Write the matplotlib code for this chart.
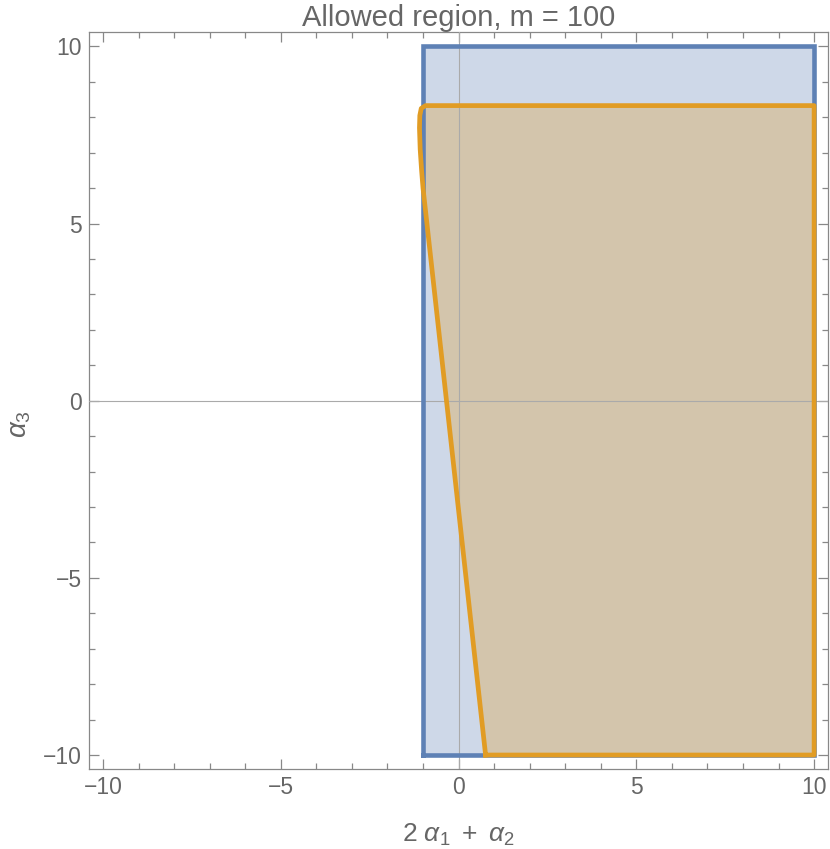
import matplotlib.pyplot as plt
from matplotlib.ticker import MultipleLocator

plt.rcParams['font.family'] = ['Liberation Sans', 'DejaVu Sans']
plt.rcParams['mathtext.fontset'] = 'custom'
plt.rcParams['mathtext.rm'] = 'Liberation Sans'
plt.rcParams['mathtext.it'] = 'Liberation Sans:italic'

# blue region: 2a1 + a2 >= -1 inside the plot box
blue_x = [-1.0, 10.0, 10.0, -1.0, -1.0]
blue_y = [-10.0, -10.0, 10.0, 10.0, -10.0]

# orange region, m = 100
orange_x = [0.76, 10.0, 10.0, -0.93, -1.05, -1.09, -1.10, -1.08, -1.04, -1.0, 0.76]
orange_y = [-10.0, -10.0, 8.33, 8.33, 8.25, 8.05, 7.7, 7.1, 6.5, 6.0, -10.0]

blue = '#5E81B5'
orange = '#E19C24'
grey = '#666666'

fig = plt.figure(figsize=(8.3, 8.49), dpi=100)
ax = fig.add_axes([0.107, 0.094, 0.891, 0.868])

ax.fill(blue_x, blue_y, color=blue, alpha=0.3, lw=0)
ax.fill(orange_x, orange_y, color=orange, alpha=0.3, lw=0)

# axes through the origin
ax.axhline(0, color='#aaaaaa', lw=0.8, zorder=3)
ax.axvline(0, color='#aaaaaa', lw=0.8, zorder=3)

ax.plot(blue_x, blue_y, color=blue, lw=3.3, solid_joinstyle='miter', zorder=4)
ax.plot(orange_x, orange_y, color=orange, lw=3.4, solid_joinstyle='round', zorder=5)

ax.set_xlim(-10.4, 10.4)
ax.set_ylim(-10.4, 10.4)

ax.xaxis.set_minor_locator(MultipleLocator(1))
ax.yaxis.set_minor_locator(MultipleLocator(1))
ax.tick_params(which='both', direction='in', top=True, right=True,
               color='#888888', labelsize=16.5, labelcolor=grey, width=0.9)
ax.tick_params(which='major', length=7, pad=5)
ax.tick_params(which='minor', length=4)
ax.set_xticks([-10, -5, 0, 5, 10])
ax.set_xticklabels(['\u221210', '\u22125', '0', '5', '10'])
ax.set_yticks([-10, -5, 0, 5, 10])
ax.set_yticklabels(['\u221210', '\u22125', '0', '5', '10'])

for s in ax.spines.values():
    s.set_color('#888888')
    s.set_linewidth(0.9)

ax.set_title('Allowed region, m = 100', fontsize=21, color=grey, pad=3)
ax.set_xlabel(r'$2\ \alpha_1\ +\ \alpha_2$', fontsize=19, color=grey, labelpad=16)
fig.text(20 / 830, 0.5, r'$\alpha_3$', fontsize=20, color=grey,
         rotation=90, ha='center', va='center')

fig.savefig('out.png', dpi=100)
